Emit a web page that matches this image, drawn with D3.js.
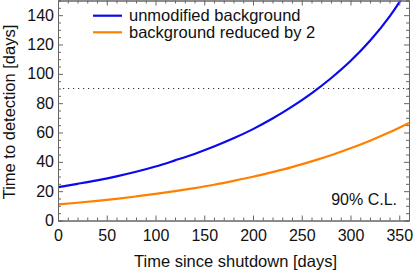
<!DOCTYPE html>
<html>
<head>
<meta charset="utf-8">
<script src="https://cdn.jsdelivr.net/npm/d3@7"></script>
<style>
  body { margin: 0; background: #fff; }
  text { font-family: "Liberation Sans", Arial, Helvetica, sans-serif; }
</style>
</head>
<body>
<script>
// data
let days = [0, 20, 40, 60, 80, 100, 120, 140, 160, 180, 200, 220, 240, 260, 280, 300, 320, 340, 360];
let unmodified = [22.7, 25.0, 27.4, 30.1, 33.2, 36.8, 41.0, 45.4, 50.4, 56.0, 62.3, 69.5, 77.6, 86.7, 97.0, 108.7, 122.5, 139, 159];
let reduced = [11.0, 12.1, 13.4, 14.8, 16.4, 18.1, 20.0, 22.1, 24.4, 27.0, 29.8, 33.0, 36.4, 40.3, 44.5, 49.2, 54.4, 60.1, 66.5];
let seriesNames = ["unmodified background", "background reduced by 2"];
let seriesColors = ["#0a0aeb", "#ff8000"];
let xTicks = [0, 50, 100, 150, 200, 250, 300, 350];
let yTicks = [0, 20, 40, 60, 80, 100, 120, 140];
let threshold = 90;

let width = 415;
let height = 272;
let plotLeft = 58, plotRight = 409, plotTop = 0.5, plotBottom = 220.5;

let svg = d3.select('body').append('svg')
            .attr('width', width)
            .attr('height', height);

let x = d3.scaleLinear().domain([0, 360]).range([plotLeft, plotRight]);
let y = d3.scaleLinear().domain([0, 150]).range([plotBottom, plotTop]);

let frame = "#666";

svg.append("clipPath").attr("id", "plot")
   .append("rect").attr("x", plotLeft).attr("y", plotTop)
   .attr("width", plotRight - plotLeft).attr("height", plotBottom - plotTop);

// dotted threshold
svg.append("line").attr("x1", plotLeft).attr("x2", plotRight)
   .attr("y1", y(threshold)).attr("y2", y(threshold))
   .attr("stroke", "#333").attr("stroke-width", 1)
   .attr("stroke-dasharray", "1.2,3.8");

// curves
let line = d3.line().x((d, i) => x(days[i])).y(d => y(d)).curve(d3.curveMonotoneX);
[unmodified, reduced].forEach((s, k) => {
  svg.append("path").attr("d", line(s))
     .attr("fill", "none")
     .attr("stroke", seriesColors[k])
     .attr("stroke-width", 2.2)
     .attr("clip-path", "url(#plot)");
});

// axes, ticks inward on all four sides
let minorX = d3.range(0, 361, 10).filter(v => v % 50 != 0);
let minorY = d3.range(0, 151, 5).filter(v => v % 20 != 0);

function styleAxis(g) {
  g.select(".domain").attr("stroke", frame);
  g.selectAll(".tick line").attr("stroke", frame);
  g.selectAll(".tick text").attr("font-size", 16).attr("fill", "#111")
   .attr("font-family", '"Liberation Sans", Arial, Helvetica, sans-serif');
}

svg.append("g").attr("transform", `translate(0,${plotBottom})`)
   .call(d3.axisBottom(x).tickValues(xTicks).tickSizeInner(-5).tickSizeOuter(0).tickPadding(9))
   .call(styleAxis);
svg.append("g").attr("transform", `translate(0,${plotBottom})`)
   .call(d3.axisBottom(x).tickValues(minorX).tickSize(-3).tickFormat(""))
   .call(styleAxis);
svg.append("g").attr("transform", `translate(0,${plotTop})`)
   .call(d3.axisTop(x).tickValues(xTicks).tickSizeInner(-5).tickSizeOuter(0).tickFormat(""))
   .call(styleAxis);
svg.append("g").attr("transform", `translate(0,${plotTop})`)
   .call(d3.axisTop(x).tickValues(minorX).tickSize(-3).tickFormat(""))
   .call(styleAxis);

svg.append("g").attr("transform", `translate(${plotLeft},0)`)
   .call(d3.axisLeft(y).tickValues(yTicks).tickSizeInner(-5).tickSizeOuter(0).tickPadding(4))
   .call(styleAxis);
svg.append("g").attr("transform", `translate(${plotLeft},0)`)
   .call(d3.axisLeft(y).tickValues(minorY).tickSize(-3).tickFormat(""))
   .call(styleAxis);
svg.append("g").attr("transform", `translate(${plotRight},0)`)
   .call(d3.axisRight(y).tickValues(yTicks).tickSizeInner(-5).tickSizeOuter(0).tickFormat(""))
   .call(styleAxis);
svg.append("g").attr("transform", `translate(${plotRight},0)`)
   .call(d3.axisRight(y).tickValues(minorY).tickSize(-3).tickFormat(""))
   .call(styleAxis);

// axis titles
svg.append("text").attr("x", (plotLeft + plotRight) / 2 + 2).attr("y", 267)
   .attr("text-anchor", "middle").attr("font-size", 16.5).attr("fill", "#111")
   .text("Time since shutdown [days]");
svg.append("text").attr("transform", "translate(15,112) rotate(-90)")
   .attr("text-anchor", "middle").attr("font-size", 16.5).attr("fill", "#111")
   .text("Time to detection [days]");

// legend
seriesNames.forEach((name, k) => {
  let ly = 15.7 + k * 16.6;
  svg.append("line").attr("x1", 93).attr("x2", 122)
     .attr("y1", ly).attr("y2", ly)
     .attr("stroke", seriesColors[k]).attr("stroke-width", 2.2);
  svg.append("text").attr("x", 129).attr("y", ly + 5.5)
     .attr("font-size", 16.5).attr("fill", "#111")
     .text(name);
});

// confidence level note
svg.append("text").attr("x", 397).attr("y", 205)
   .attr("text-anchor", "end").attr("font-size", 16).attr("fill", "#111")
   .text("90% C.L.");
</script>
</body>
</html>
